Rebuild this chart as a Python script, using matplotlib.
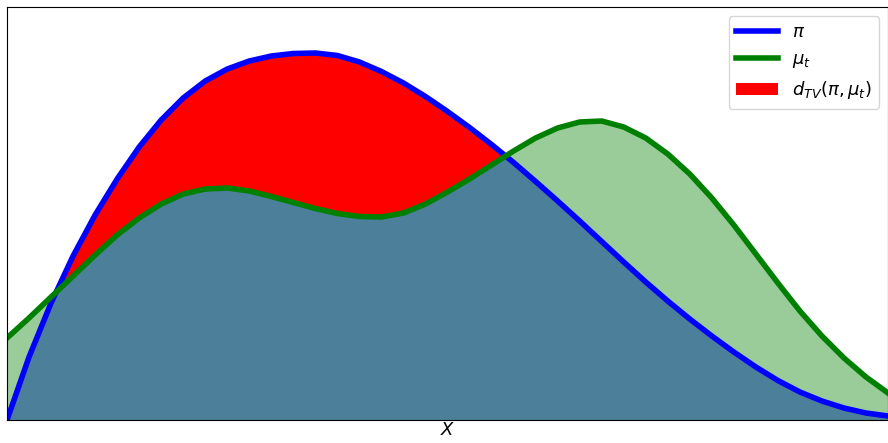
import numpy as np
import matplotlib.pyplot as plt

# sample positions along X
x = np.linspace(0, 10, 41)

# target density pi
pi = [0.00, 0.63, 1.17, 1.64, 2.05, 2.41, 2.73, 3.00, 3.22, 3.39,
      3.51, 3.59, 3.64, 3.665, 3.67, 3.645, 3.58, 3.485, 3.37, 3.235,
      3.085, 2.925, 2.755, 2.575, 2.385, 2.19, 1.99, 1.785, 1.58, 1.38,
      1.19, 1.01, 0.84, 0.68, 0.53, 0.395, 0.28, 0.19, 0.12, 0.07,
      0.04]

# current distribution mu_t
mu = [0.82, 1.02, 1.23, 1.44, 1.65, 1.85, 2.02, 2.16, 2.26, 2.31,
      2.32, 2.29, 2.235, 2.175, 2.115, 2.065, 2.035, 2.03, 2.07, 2.16,
      2.28, 2.41, 2.55, 2.69, 2.82, 2.92, 2.98, 2.99, 2.93, 2.82,
      2.66, 2.46, 2.22, 1.95, 1.66, 1.37, 1.09, 0.84, 0.62, 0.43,
      0.27]

pi = np.array(pi)
mu = np.array(mu)

fig = plt.figure(figsize=(8.88, 4.43), dpi=100)
ax = fig.add_axes([7 / 888, 23 / 443, 881 / 888, 413 / 443])

# shaded areas
ax.fill_between(x, pi, color='blue', alpha=0.5, linewidth=0)
ax.fill_between(x, mu, color='green', alpha=0.4, linewidth=0)
ax.fill_between(x, mu, pi, where=pi > mu, interpolate=True,
                color='red', linewidth=0, label=r'$d_{TV}(\pi, \mu_t)$')

# curves
ax.plot(x, pi, color='blue', lw=4, solid_joinstyle='round', label=r'$\pi$')
ax.plot(x, mu, color='green', lw=4, solid_joinstyle='round', label=r'$\mu_t$')

ax.set_xlim(0, 10)
ax.set_ylim(0, 4.13)
ax.set_xticks([])
ax.set_yticks([])
ax.set_xlabel('$X$', fontsize=13, labelpad=1)

handles, labels = ax.get_legend_handles_labels()
order = [1, 2, 0]
ax.legend([handles[i] for i in order], [labels[i] for i in order],
          loc='upper right', fontsize=13, handlelength=2.3)

fig.savefig('out.png', dpi=100)
